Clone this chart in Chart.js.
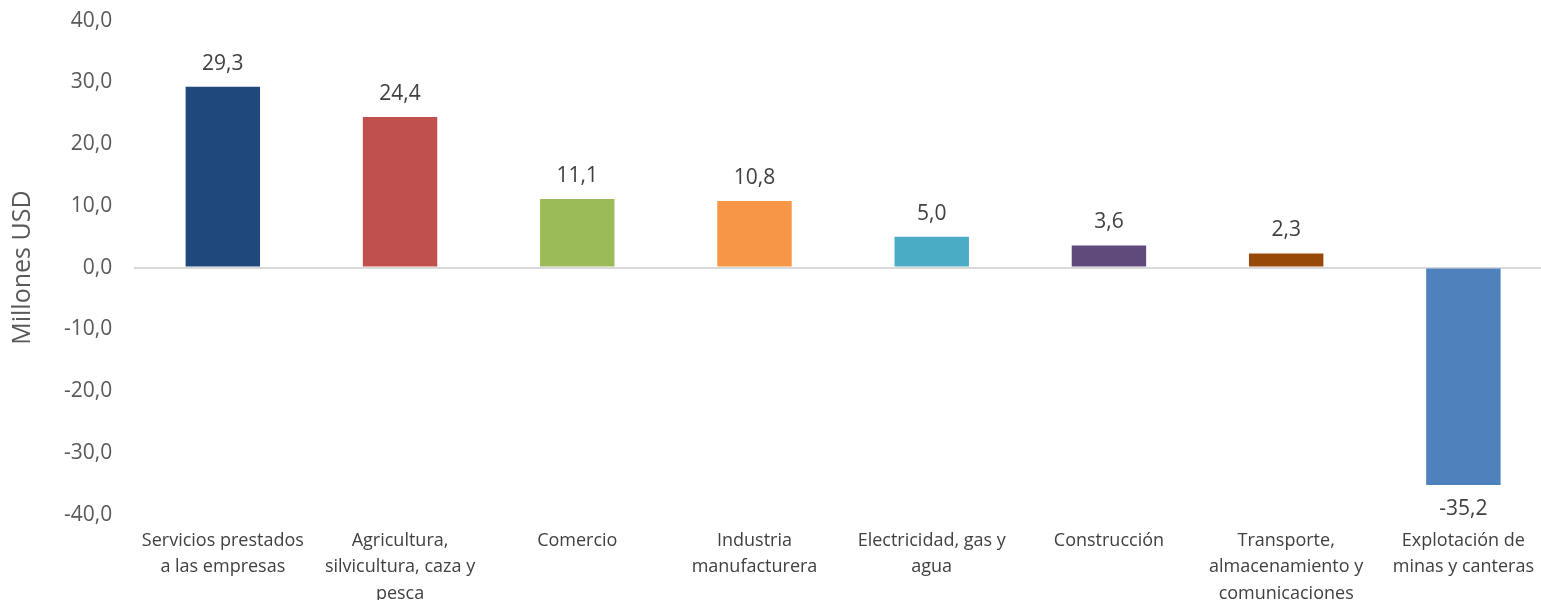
<!DOCTYPE html>
<html>
<head>
<meta charset="utf-8">
<script src="https://cdn.jsdelivr.net/npm/chart.js@4"></script>
<style>
  html, body { margin: 0; padding: 0; background: #fff; overflow: hidden; }
  #wrap { position: relative; width: 1552px; height: 626px; margin-top: -14px; }
</style>
</head>
<body>
<div id="wrap"><canvas id="chart"></canvas></div>
<script>
const categories = [
  ["Servicios prestados", "a las empresas"],
  ["Agricultura,", "silvicultura, caza y", "pesca"],
  "Comercio",
  ["Industria", "manufacturera"],
  ["Electricidad, gas y", "agua"],
  "Construcción",
  ["Transporte,", "almacenamiento y", "comunicaciones"],
  ["Explotación de", "minas y canteras"]
];
const values = [29.3, 24.4, 11.1, 10.8, 5.0, 3.6, 2.3, -35.2];
const barColors = ["#1F497D", "#C0504D", "#9BBB59", "#F79646", "#4BACC6", "#604A7B", "#984807", "#4F81BD"];
const yTicks = [-40, -30, -20, -10, 0, 10, 20, 30, 40];

const fmt = (v) => v.toFixed(1).replace(".", ",");

// value labels above / below each bar
const barLabels = {
  id: "barLabels",
  afterDatasetsDraw(chart) {
    const ctx = chart.ctx;
    const meta = chart.getDatasetMeta(0);
    ctx.save();
    ctx.font = "21px 'Open Sans'";
    ctx.fillStyle = "#404040";
    ctx.textAlign = "center";
    ctx.textBaseline = "middle";
    meta.data.forEach((bar, i) => {
      const v = values[i];
      const y = v >= 0 ? bar.y - 23 : bar.y + 24;
      ctx.fillText(fmt(v), bar.x, y);
    });
    ctx.restore();
  }
};

new Chart(document.getElementById("chart"), {
  type: "bar",
  data: {
    labels: categories,
    datasets: [{
      data: values,
      backgroundColor: barColors,
      borderWidth: 0,
      barPercentage: 1,
      categoryPercentage: 0.42
    }]
  },
  options: {
    responsive: true,
    maintainAspectRatio: false,
    animation: false,
    layout: { padding: { top: 0, left: 8, right: 0, bottom: 0 } },
    plugins: {
      legend: { display: false },
      tooltip: { enabled: false }
    },
    scales: {
      x: {
        grid: { display: false },
        border: { display: false },
        ticks: {
          color: "#404040",
          font: { family: "'Open Sans'", size: 18, lineHeight: 1.47 },
          maxRotation: 0,
          autoSkip: false,
          padding: 5
        }
      },
      y: {
        min: -40,
        max: 40,
        afterBuildTicks(axis) {
          axis.ticks = yTicks.map((v) => ({ value: v }));
        },
        grid: {
          drawTicks: false,
          color: (c) => (c.tick && c.tick.value === 0 ? "#D9D9D9" : "rgba(0,0,0,0)"),
          lineWidth: 2
        },
        border: { display: false },
        ticks: {
          color: "#595959",
          font: { family: "'Open Sans'", size: 21 },
          padding: 22,
          callback: (v) => fmt(v)
        },
        title: {
          display: true,
          text: "Millones USD",
          color: "#595959",
          font: { family: "'Open Sans'", size: 25 },
          padding: { top: 0, bottom: 4 }
        }
      }
    }
  },
  plugins: [barLabels]
});
</script>
</body>
</html>
